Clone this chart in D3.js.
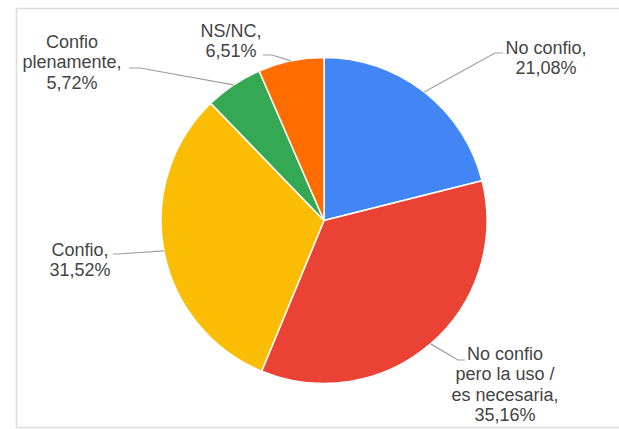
<!DOCTYPE html>
<html lang="es">
<head>
<meta charset="UTF-8">
<title>Confianza</title>
<script src="https://cdn.jsdelivr.net/npm/d3@7"></script>
<style>
  body { margin: 0; background: #fff; }
  .etiqueta {
    font-family: "Liberation Sans", Arial, sans-serif;
    font-size: 18px;
    fill: #444;
  }
  .guia { fill: none; stroke: #9e9e9e; stroke-width: 1.2; }
</style>
</head>
<body>
<div id="grafico"></div>
<script>
// datos (orden en sentido horario desde las 12)
var categorias = ["No confio", "No confio pero la uso / es necesaria", "Confio", "Confio plenamente", "NS/NC"];
var valores = [21.08, 35.16, 31.52, 5.72, 6.51];
var etiquetas = [
  ["No confio,", "21,08%"],
  ["No confio", "pero la uso /", "es necesaria,", "35,16%"],
  ["Confio,", "31,52%"],
  ["Confio", "plenamente,", "5,72%"],
  ["NS/NC,", "6,51%"]
];
var colores = ["#4285F4", "#EA4335", "#FBBC04", "#34A853", "#FF6D01"];

var w = 619, h = 429;
var cx = 324, cy = 220.5, radio = 163;

// donde va cada texto y el codo de su linea guia
var posiciones = [
  { x: 546, y: 54, codo: [495, 53], fin: [503, 53] },
  { x: 505, y: 360, codo: [458, 360], fin: [465, 360] },
  { x: 80, y: 256, codo: [118, 254], fin: [113, 254] },
  { x: 72, y: 48, codo: [140, 68], fin: [129, 68] },
  { x: 231, y: 37, codo: [272, 55], fin: [263, 55] }
];
var interlinea = 20.3;

var svg = d3.select("#grafico").append("svg")
  .attr("width", w)
  .attr("height", h);

// marco gris
svg.append("rect")
  .attr("x", 16.5).attr("y", 8.5)
  .attr("width", 640).attr("height", 419)
  .attr("fill", "none")
  .attr("stroke", "#dcdcdc")
  .attr("stroke-width", 1.5);

var pie = d3.pie().sort(null).value(function(d){ return d; });
var arcos = pie(valores);
var arco = d3.arc().innerRadius(0).outerRadius(radio);

var g = svg.append("g").attr("transform", "translate(" + cx + "," + cy + ")");

g.selectAll("path")
  .data(arcos)
  .enter()
  .append("path")
  .attr("d", arco)
  .attr("fill", function(d, i){ return colores[i]; })
  .attr("stroke", "#fff")
  .attr("stroke-width", 1.5);

// lineas guia
svg.selectAll(".guia")
  .data(arcos)
  .enter()
  .append("polyline")
  .attr("class", "guia")
  .attr("points", function(d, i){
    var a = (d.startAngle + d.endAngle) / 2;
    var x0 = cx + radio * Math.sin(a), y0 = cy - radio * Math.cos(a);
    var p = posiciones[i];
    return [[x0, y0], p.codo, p.fin].map(function(q){ return q.join(","); }).join(" ");
  });

// textos
svg.selectAll(".etiqueta")
  .data(etiquetas)
  .enter()
  .append("text")
  .attr("class", "etiqueta")
  .attr("text-anchor", "middle")
  .each(function(lineas, i){
    var t = d3.select(this);
    lineas.forEach(function(l, j){
      t.append("tspan")
        .attr("x", posiciones[i].x)
        .attr("y", posiciones[i].y + j * interlinea)
        .text(l);
    });
  });
</script>
</body>
</html>
